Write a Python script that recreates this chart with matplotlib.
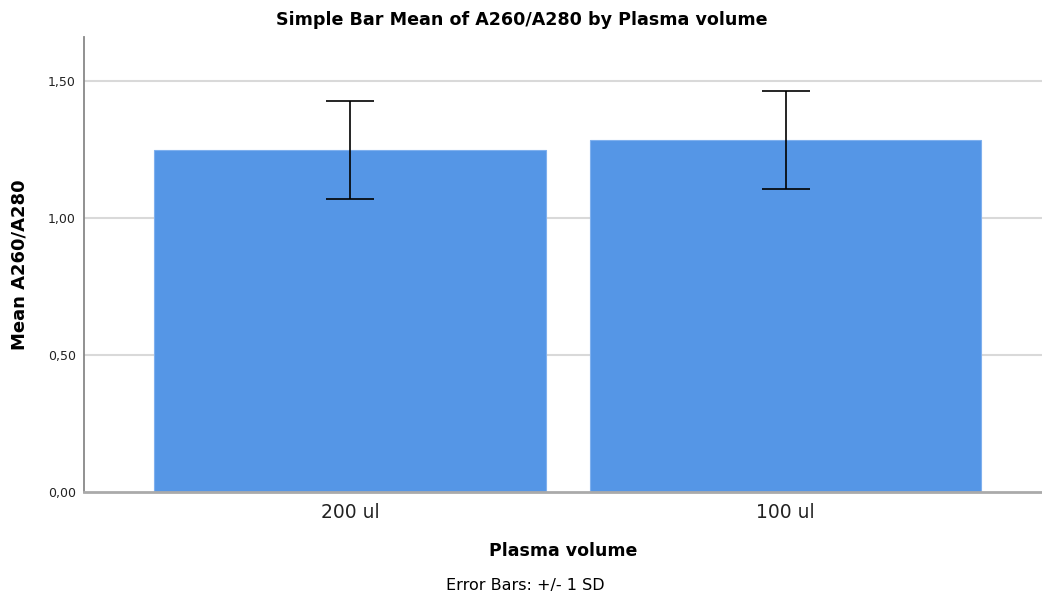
import numpy as np
import matplotlib.pyplot as plt

groups = ['200 ul', '100 ul']
means = [1.248, 1.285]
sds = [0.178, 0.179]
yticks = [0.0, 0.5, 1.0, 1.5]
ytick_labels = ['0,00', '0,50', '1,00', '1,50']

fig = plt.figure(figsize=(10.42, 5.97), dpi=100)
ax = fig.add_axes([0.0806, 0.1759, 0.9194, 0.762])

x = np.arange(len(groups))
ax.bar(x, means, width=0.9, color='#5596E6', edgecolor='#7FB0EE', linewidth=0.8, zorder=2)
ax.errorbar(x, means, yerr=sds, fmt='none', ecolor='black', elinewidth=1.2,
            capsize=17, capthick=1.2, zorder=3)

ax.set_xlim(-0.611, 1.589)
ax.set_ylim(0, 1.66)
ax.set_yticks(yticks)
ax.set_yticklabels(ytick_labels, fontsize=9)
ax.set_xticks(x)
ax.set_xticklabels(groups, fontsize=13.5)
ax.tick_params(axis='both', length=0, pad=6, colors='#222222')
ax.tick_params(axis='x', pad=8)

for y in yticks[1:]:
    ax.axhline(y, color='#D9D9D9', linewidth=1.5, zorder=1)

for s in ['top', 'right']:
    ax.spines[s].set_visible(False)
ax.spines['left'].set_color('#888888')
ax.spines['bottom'].set_color('#AAAAAA')
ax.spines['left'].set_linewidth(1.3)
ax.spines['bottom'].set_linewidth(2)

ax.set_ylabel('Mean A260/A280', fontsize=13, fontweight='bold', labelpad=14)
ax.set_xlabel('Plasma volume', fontsize=12.5, fontweight='bold', labelpad=14)
fig.text(0.5005, 0.966, 'Simple Bar Mean of A260/A280 by Plasma volume',
         ha='center', va='center', fontsize=12.6, fontweight='bold')
fig.text(0.5045, 0.02, 'Error Bars: +/- 1 SD', ha='center', va='center', fontsize=11.5)

fig.savefig('out.png', dpi=100)
